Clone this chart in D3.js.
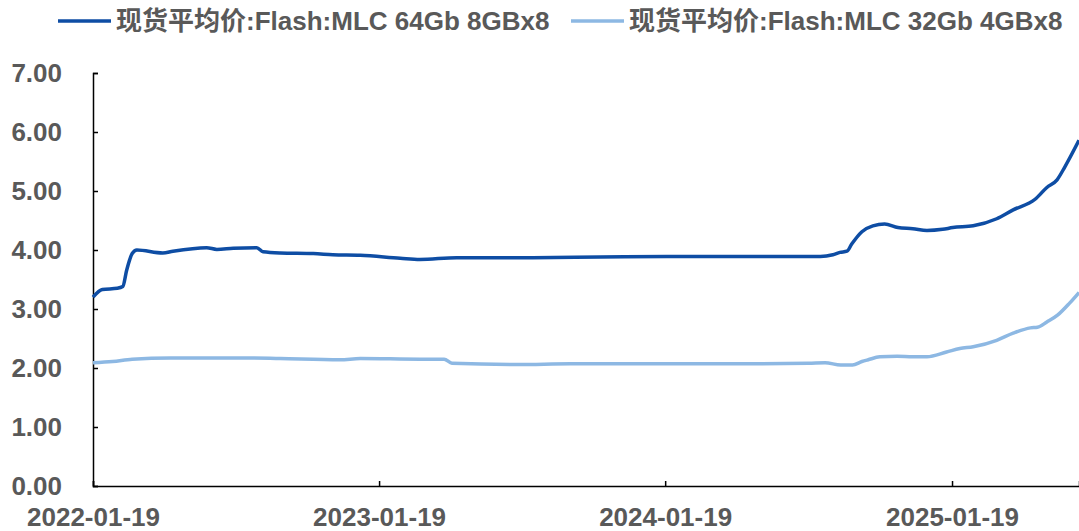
<!DOCTYPE html>
<html><head><meta charset="utf-8">
<script src="https://cdn.jsdelivr.net/npm/d3@7"></script>
<style>
html,body{margin:0;padding:0;background:#fff;}
text{font-family:"Liberation Sans",Arial,"Noto Sans CJK SC",sans-serif;font-weight:bold;fill:#595959;}
</style></head>
<body><svg id="c" width="1079" height="531"></svg>
<script>
const seriesNames = ["现货平均价:Flash:MLC 64Gb 8GBx8", "现货平均价:Flash:MLC 32Gb 4GBx8"];
const seriesColors = ["#0E4DA4", "#8DB8E3"];
const yTicks = [0,1,2,3,4,5,6,7];
const xTickLabels = ["2022-01-19","2023-01-19","2024-01-19","2025-01-19"];

const mlc64Dates = ["2022-01-19","2022-01-31","2022-02-19","2022-02-26","2022-03-03","2022-03-10","2022-03-16","2022-04-18","2022-05-01","2022-06-13","2022-06-26","2022-07-17","2022-08-16","2022-08-24","2022-09-15","2022-10-27","2022-11-21","2022-12-26","2023-02-15","2023-03-12","2023-04-28","2023-08-03","2023-10-28","2024-01-21","2024-04-15","2024-08-04","2024-08-20","2024-08-29","2024-09-07","2024-09-13","2024-09-26","2024-10-10","2024-10-25","2024-11-11","2024-11-30","2024-12-18","2025-01-07","2025-01-20","2025-02-15","2025-03-17","2025-04-07","2025-05-05","2025-05-20","2025-06-02","2025-06-12","2025-06-30"];
const mlc64Values = [3.20,3.33,3.35,3.38,3.66,3.94,4.00,3.95,3.98,4.04,4.01,4.03,4.04,3.97,3.95,3.94,3.92,3.91,3.86,3.84,3.87,3.87,3.88,3.89,3.89,3.89,3.92,3.96,3.98,4.10,4.31,4.41,4.44,4.38,4.36,4.33,4.35,4.38,4.41,4.53,4.68,4.86,5.06,5.19,5.41,5.86];

const mlc32Dates = ["2022-01-19","2022-02-13","2022-03-10","2022-04-28","2022-08-05","2022-09-15","2022-11-30","2022-12-26","2023-03-12","2023-04-12","2023-04-22","2023-07-15","2023-09-20","2024-01-21","2024-05-01","2024-07-20","2024-08-10","2024-08-30","2024-09-14","2024-09-26","2024-10-04","2024-10-19","2024-11-10","2024-11-30","2024-12-18","2025-01-12","2025-01-29","2025-02-15","2025-03-17","2025-04-07","2025-04-29","2025-05-08","2025-05-20","2025-06-03","2025-06-18","2025-06-30"];
const mlc32Values = [2.09,2.11,2.15,2.17,2.17,2.16,2.14,2.16,2.15,2.15,2.08,2.06,2.07,2.07,2.07,2.08,2.09,2.05,2.05,2.11,2.14,2.19,2.20,2.19,2.19,2.27,2.33,2.36,2.47,2.59,2.68,2.69,2.78,2.90,3.10,3.28];

const parse = d3.timeParse("%Y-%m-%d");
const svg = d3.select("#c");
const x = d3.scaleTime().domain([parse("2022-01-19"), parse("2025-06-30")]).range([93, 1079]);
const y = d3.scaleLinear().domain([0,7]).range([486, 73]);

// axes
const yAxis = d3.axisLeft(y).tickValues(yTicks).tickSize(-5).tickPadding(31).tickFormat(d3.format(".2f"));
const gy = svg.append("g").attr("transform","translate(93,0)").call(yAxis);
gy.select(".domain").attr("stroke","#000").attr("stroke-width",1.5);
gy.selectAll(".tick line").attr("stroke","#000").attr("stroke-width",1.5);
gy.selectAll(".tick text").style("font-size","26px").attr("fill","#595959");

const xAxis = d3.axisBottom(x).tickValues(xTickLabels.map(parse)).tickSize(-5).tickPadding(22).tickFormat(d3.timeFormat("%Y-%m-%d"));
const gx = svg.append("g").attr("transform","translate(0,486)").call(xAxis);
gx.select(".domain").attr("stroke","#000").attr("stroke-width",1.5);
gx.selectAll(".tick line").attr("stroke","#000").attr("stroke-width",1.5);
gx.selectAll(".tick text").style("font-size","26px").attr("fill","#595959");

const line = d3.line().x(d=>x(d[0])).y(d=>y(d[1])).curve(d3.curveMonotoneX);
const s32 = mlc32Dates.map((d,i)=>[parse(d), mlc32Values[i]]);
const s64 = mlc64Dates.map((d,i)=>[parse(d), mlc64Values[i]]);
svg.append("path").datum(s32).attr("d",line).attr("fill","none").attr("stroke",seriesColors[1]).attr("stroke-width",3.5);
svg.append("path").datum(s64).attr("d",line).attr("fill","none").attr("stroke",seriesColors[0]).attr("stroke-width",3.5);

// legend
const legX = [58, 571];
seriesNames.forEach((n,i)=>{
  svg.append("line").attr("x1",legX[i]).attr("x2",legX[i]+53).attr("y1",21).attr("y2",21)
    .attr("stroke",seriesColors[i]).attr("stroke-width",3.5);
  svg.append("text").attr("x",legX[i]+58).attr("y",30).style("font-size","26px").text(n);
});
</script></body></html>
